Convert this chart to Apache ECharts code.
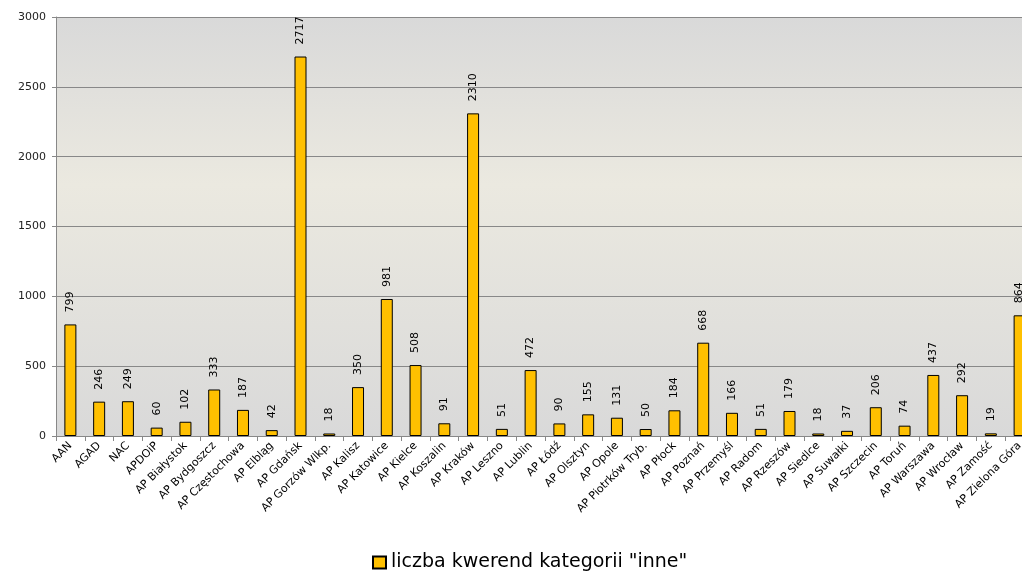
<!DOCTYPE html>
<html><head><meta charset="utf-8">
<script src="https://cdn.jsdelivr.net/npm/echarts@6/dist/echarts.min.js"></script>
<style>html,body{margin:0;padding:0;background:#fff;overflow:hidden}body{width:1022px;height:571px}#c{width:1040px;height:571px}</style>
</head><body><div id="c"></div>
<script>
const categories = ["AAN","AGAD","NAC","APDOiP","AP Białystok","AP Bydgoszcz","AP Częstochowa","AP Elbląg","AP Gdańsk","AP Gorzów Wlkp.","AP Kalisz","AP Katowice","AP Kielce","AP Koszalin","AP Kraków","AP Leszno","AP Lublin","AP Łódź","AP Olsztyn","AP Opole","AP Piotrków Tryb.","AP Płock","AP Poznań","AP Przemyśl","AP Radom","AP Rzeszów","AP Siedlce","AP Suwałki","AP Szczecin","AP Toruń","AP Warszawa","AP Wrocław","AP Zamość","AP Zielona Góra"];
const values = [799,246,249,60,102,333,187,42,2717,18,350,981,508,91,2310,51,472,90,155,131,50,184,668,166,51,179,18,37,206,74,437,292,19,864];
const seriesName = 'liczba kwerend kategorii "inne"';
const yTicks = [0,500,1000,1500,2000,2500,3000];

const chart = echarts.init(document.getElementById('c'), null, {renderer:'canvas'});
chart.setOption({
  animation:false,
  backgroundColor:'#ffffff',
  textStyle:{fontFamily:'DejaVu Sans'},
  legend:{
    data:[seriesName], top:548, left:367, icon:'rect',
    itemWidth:13, itemHeight:12, itemGap:6,
    textStyle:{fontSize:19, color:'#000', fontFamily:'DejaVu Sans'}
  },
  grid:{
    left:56, top:17, width:978, height:419,
    show:true, borderWidth:0,
    backgroundColor:new echarts.graphic.LinearGradient(0,0,0,1,[
      {offset:0,color:'#d9d9d9'},{offset:0.4,color:'#ebe9e0'},{offset:1,color:'#d9d9d9'}
    ])
  },
  xAxis:{
    type:'category', data:categories,
    axisLine:{show:true, lineStyle:{color:'#888', width:1}},
    axisTick:{show:true, alignWithLabel:false, length:5, lineStyle:{color:'#888'}},
    axisLabel:{interval:0, rotate:45, fontSize:11, color:'#000', margin:8, fontFamily:'DejaVu Sans'}
  },
  yAxis:{
    type:'value', min:0, max:3000, interval:500,
    axisLine:{show:true, lineStyle:{color:'#888'}},
    axisTick:{show:true, length:4, lineStyle:{color:'#888'}},
    axisLabel:{fontSize:11, color:'#222', margin:10, fontFamily:'DejaVu Sans',
      formatter:function(v){return yTicks.indexOf(v)>=0?String(v):'';}},
    splitLine:{show:true, lineStyle:{color:'#888', width:1}}
  },
  series:[{
    name:seriesName, type:'bar', data:values, barWidth:12,
    itemStyle:{color:'#ffc000', borderColor:'#000', borderWidth:1},
    label:{show:true, position:'top', rotate:90, align:'left', verticalAlign:'middle',
      distance:12, fontSize:11, color:'#000', fontFamily:'DejaVu Sans'}
  }]
});
</script></body></html>
